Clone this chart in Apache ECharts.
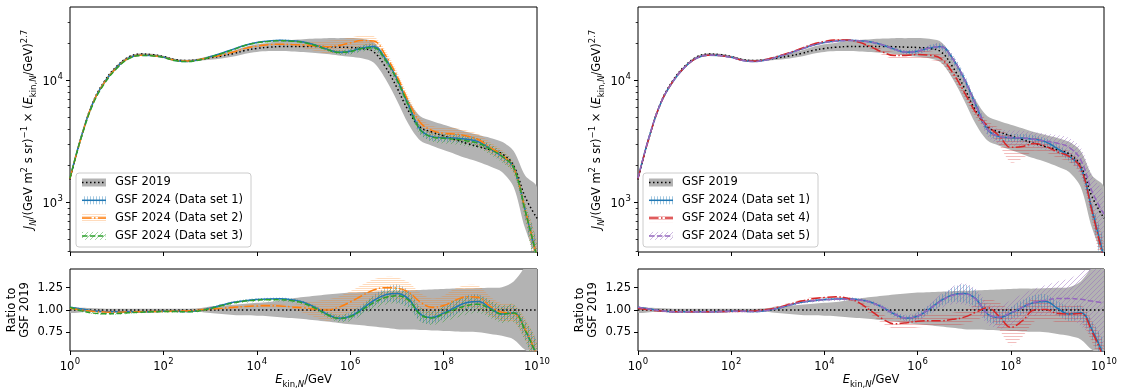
<!DOCTYPE html>
<html>
<head>
<meta charset="utf-8">
<script src="https://cdn.jsdelivr.net/npm/echarts@6/dist/echarts.min.js"></script>
<style>
  html, body { margin: 0; padding: 0; background: #fff; }
  #chart { width: 1121px; height: 392px; }
</style>
</head>
<body>
<div id="chart"></div>
<script>
// energy grid, log10(E_kin,N / GeV)
const logE = [0, 0.25, 0.5, 0.75, 1, 1.25, 1.5, 1.75, 2, 2.25, 2.5, 2.75, 3, 3.25, 3.5, 3.75, 4, 4.25, 4.5, 4.75,
  5, 5.25, 5.5, 5.75, 6, 6.25, 6.5, 6.75, 7, 7.25, 7.5, 7.75, 8, 8.25, 8.5, 8.75, 9, 9.25, 9.5, 9.75, 10];

// GSF 2019 flux x E^2.7
const gsf2019 = [1535, 3520, 6730, 10000, 13060, 15500, 16440, 16290, 15700, 14800, 14550, 14800, 15300, 15850, 16600, 17600,
  18300, 18700, 18970, 19000, 19000, 18980, 18900, 18750, 18620, 18280, 17180, 12970, 8730, 5600, 4140, 3780, 3510, 3270,
  3040, 2860, 2700, 2500, 1995, 1100, 740];
// GSF 2019 uncertainty band, relative to GSF 2019
const gsfLo = [0.97, 0.975, 0.98, 0.985, 0.985, 0.985, 0.985, 0.985, 0.985, 0.985, 0.985, 0.98, 0.965, 0.955, 0.945, 0.94,
  0.935, 0.93, 0.92, 0.91, 0.9, 0.885, 0.87, 0.855, 0.84, 0.83, 0.815, 0.8, 0.785, 0.78, 0.775, 0.77, 0.765, 0.76, 0.755,
  0.75, 0.73, 0.71, 0.67, 0.55, 0.5];
const gsfHi = [1.03, 1.025, 1.02, 1.015, 1.015, 1.015, 1.015, 1.015, 1.015, 1.015, 1.015, 1.02, 1.04, 1.05, 1.06, 1.07,
  1.08, 1.09, 1.11, 1.13, 1.145, 1.16, 1.175, 1.185, 1.195, 1.2, 1.205, 1.21, 1.215, 1.22, 1.225, 1.23, 1.235, 1.24, 1.24,
  1.245, 1.25, 1.255, 1.32, 1.5, 1.8];

// GSF 2024 fits, ratio to GSF 2019, and their half band widths
const ratio1 = [1.03, 1.01, 0.99, 0.98, 0.98, 0.98, 0.98, 0.982, 0.985, 0.985, 0.983, 0.995, 1.02, 1.055, 1.087, 1.105,
  1.117, 1.123, 1.125, 1.115, 1.087, 1.03, 0.955, 0.908, 0.93, 1.01, 1.106, 1.17, 1.185, 1.125, 0.955, 0.915, 0.965, 1.03,
  1.085, 1.095, 1.02, 0.955, 0.97, 0.77, 0.48];
const err1 = [0.01, 0.01, 0.01, 0.01, 0.01, 0.01, 0.01, 0.01, 0.01, 0.01, 0.01, 0.012, 0.012, 0.012, 0.012, 0.015, 0.015,
  0.015, 0.015, 0.015, 0.015, 0.02, 0.025, 0.03, 0.04, 0.05, 0.06, 0.08, 0.1, 0.09, 0.08, 0.07, 0.07, 0.08, 0.08, 0.08,
  0.08, 0.08, 0.08, 0.1, 0.15];
const ratio2 = [1.02, 1.0, 0.985, 0.978, 0.975, 0.978, 0.98, 0.983, 0.985, 0.988, 0.99, 0.998, 1.01, 1.02, 1.03, 1.04,
  1.045, 1.048, 1.045, 1.035, 1.025, 1.01, 1.0, 1.03, 1.09, 1.16, 1.225, 1.25, 1.245, 1.2, 1.09, 1.03, 1.05, 1.11, 1.15,
  1.14, 1.04, 0.975, 0.965, 0.78, 0.48];
const err2 = [0.012, 0.012, 0.012, 0.012, 0.012, 0.012, 0.012, 0.012, 0.012, 0.012, 0.012, 0.015, 0.015, 0.015, 0.015,
  0.02, 0.02, 0.02, 0.02, 0.02, 0.06, 0.09, 0.12, 0.12, 0.12, 0.12, 0.12, 0.12, 0.12, 0.11, 0.1, 0.1, 0.11, 0.13, 0.13,
  0.13, 0.11, 0.1, 0.1, 0.12, 0.15];
const ratio3 = [1.03, 0.99, 0.965, 0.958, 0.96, 0.968, 0.975, 0.98, 0.982, 0.982, 0.98, 0.99, 1.015, 1.05, 1.08, 1.1,
  1.11, 1.115, 1.115, 1.105, 1.075, 1.02, 0.95, 0.905, 0.925, 1.0, 1.08, 1.14, 1.16, 1.11, 0.95, 0.91, 0.955, 1.01, 1.05,
  1.065, 1.01, 0.955, 0.965, 0.77, 0.48];
const err3 = [0.012, 0.012, 0.012, 0.012, 0.012, 0.012, 0.012, 0.012, 0.012, 0.012, 0.012, 0.015, 0.015, 0.015, 0.015,
  0.02, 0.02, 0.02, 0.02, 0.02, 0.02, 0.025, 0.03, 0.04, 0.05, 0.06, 0.07, 0.08, 0.09, 0.09, 0.08, 0.08, 0.09, 0.1, 0.1,
  0.1, 0.1, 0.1, 0.1, 0.12, 0.15];
const ratio4 = [1.02, 1.0, 0.99, 0.982, 0.98, 0.98, 0.98, 0.982, 0.985, 0.988, 0.99, 1.005, 1.03, 1.065, 1.1, 1.125,
  1.14, 1.148, 1.13, 1.08, 0.99, 0.9, 0.845, 0.855, 0.875, 0.88, 0.88, 0.895, 0.92, 0.975, 1.025, 0.93, 0.805, 0.88, 1.0,
  1.005, 0.96, 0.955, 0.96, 0.75, 0.45];
const err4 = [0.012, 0.012, 0.012, 0.012, 0.012, 0.012, 0.012, 0.012, 0.012, 0.012, 0.012, 0.015, 0.015, 0.015, 0.015,
  0.02, 0.02, 0.02, 0.02, 0.02, 0.04, 0.05, 0.06, 0.07, 0.07, 0.07, 0.07, 0.075, 0.08, 0.09, 0.1, 0.15, 0.2, 0.18, 0.13,
  0.11, 0.1, 0.1, 0.1, 0.12, 0.15];
const ratio5 = [1.03, 1.01, 0.99, 0.98, 0.98, 0.98, 0.98, 0.982, 0.985, 0.985, 0.983, 0.995, 1.02, 1.055, 1.085, 1.103,
  1.115, 1.12, 1.122, 1.112, 1.085, 1.03, 0.955, 0.91, 0.932, 1.01, 1.1, 1.165, 1.18, 1.12, 0.96, 0.92, 0.97, 1.03, 1.085,
  1.11, 1.13, 1.13, 1.12, 1.1, 1.08];
const err5 = [0.012, 0.012, 0.012, 0.012, 0.012, 0.012, 0.012, 0.012, 0.012, 0.012, 0.012, 0.015, 0.015, 0.015, 0.015,
  0.02, 0.02, 0.02, 0.02, 0.02, 0.025, 0.03, 0.035, 0.04, 0.05, 0.06, 0.08, 0.1, 0.12, 0.12, 0.12, 0.13, 0.14, 0.15, 0.15,
  0.17, 0.19, 0.22, 0.3, 0.4, 0.5];

const xTicks = [0, 2, 4, 6, 8, 10];
const yMainTicks = [3, 4];
const yMinorTicks = [400, 500, 600, 700, 800, 900, 2000, 3000, 4000, 5000, 6000, 7000, 8000, 9000, 20000, 30000, 40000];
const yRatioTicks = [0.75, 1.0, 1.25];

const FONT = 'DejaVu Sans';
const FS = 11.5;

function hatch(kind, color, size) {
  const c = document.createElement('canvas');
  c.width = size; c.height = size;
  const g = c.getContext('2d');
  g.strokeStyle = color;
  g.lineWidth = 1;
  g.beginPath();
  if (kind === '|') { g.moveTo(0.5, 0); g.lineTo(0.5, size); }
  else if (kind === '-') { g.moveTo(0, 0.5); g.lineTo(size, 0.5); }
  else {
    g.moveTo(0, size); g.lineTo(size, 0);
    g.moveTo(-1, 1); g.lineTo(1, -1);
    g.moveTo(size - 1, size + 1); g.lineTo(size + 1, size - 1);
  }
  g.stroke();
  return { image: c, repeat: 'repeat' };
}

const GRAY = '#b3b3b3';
const sets = {
  1: { name: 'GSF 2024 (Data set 1)', r: ratio1, e: err1, color: '#1f77b4', dash: 'solid', fill: hatch('|', 'rgba(31,119,180,0.4)', 3) },
  2: { name: 'GSF 2024 (Data set 2)', r: ratio2, e: err2, color: '#ff7f0e', dash: [9.6, 2.4, 1.5, 2.4], fill: hatch('-', 'rgba(255,127,14,0.28)', 2) },
  3: { name: 'GSF 2024 (Data set 3)', r: ratio3, e: err3, color: '#2ca02c', dash: [5.5, 2.4], fill: hatch('/', 'rgba(44,160,44,0.45)', 5) },
  4: { name: 'GSF 2024 (Data set 4)', r: ratio4, e: err4, color: '#d62728', dash: [9.6, 2.4, 1.5, 2.4], fill: hatch('-', 'rgba(214,39,40,0.3)', 3) },
  5: { name: 'GSF 2024 (Data set 5)', r: ratio5, e: err5, color: '#9467bd', dash: [5.5, 2.4], fill: hatch('/', 'rgba(148,103,189,0.45)', 5) }
};

const pow10 = v => '{b|10}{s|' + v + '}';
const powRich = {
  b: { fontFamily: FONT, fontSize: FS, color: '#000', lineHeight: 16, verticalAlign: 'bottom' },
  s: { fontFamily: FONT, fontSize: 8.5, color: '#000', lineHeight: 16, verticalAlign: 'top', padding: [0, 0, 0, 0.5] }
};
const mathRich = {
  t: { fontFamily: FONT, fontSize: FS, color: '#000', lineHeight: 18 },
  i: { fontFamily: FONT, fontSize: FS, color: '#000', fontStyle: 'italic', lineHeight: 18 },
  sub: { fontFamily: FONT, fontSize: 8.5, color: '#000', lineHeight: 10, verticalAlign: 'bottom' },
  subi: { fontFamily: FONT, fontSize: 8.5, color: '#000', fontStyle: 'italic', lineHeight: 10, verticalAlign: 'bottom' },
  sup: { fontFamily: FONT, fontSize: 8.5, color: '#000', lineHeight: 10, verticalAlign: 'top' }
};

const tickStyle = { show: true, length: 4, lineStyle: { color: '#000', width: 1 } };

function xAxisDef(grid, withLabels) {
  return {
    type: 'value', gridIndex: grid, min: 0, max: 10, interval: 2,
    axisLine: { show: false }, splitLine: { show: false },
    axisTick: tickStyle,
    axisLabel: withLabels ? { show: true, margin: 6, formatter: pow10, rich: powRich } : { show: false },
    name: withLabels ? '{i|E}{sub|kin,}{subi|N}{t|/GeV}' : '',
    nameLocation: 'middle', nameGap: 20,
    nameTextStyle: { fontFamily: FONT, fontSize: FS, color: '#000', rich: mathRich }
  };
}

function yMainDef(grid) {
  return {
    type: 'value', gridIndex: grid, min: 2.593, max: 4.602,
    axisLine: { show: false }, splitLine: { show: false },
    axisTick: Object.assign({ customValues: yMainTicks }, tickStyle),
    axisLabel: { show: true, margin: 7, customValues: yMainTicks, formatter: pow10, rich: powRich },
    name: '{i|J}{subi|N}{t|/(GeV m}{sup|2}{t| s sr)}{sup|−1}{t| × (}{i|E}{sub|kin,}{subi|N}{t|/GeV)}{sup|2.7}',
    nameLocation: 'middle', nameRotate: 90, nameGap: 32,
    nameTextStyle: { fontFamily: FONT, fontSize: FS, color: '#000', rich: mathRich }
  };
}

function yMinorDef(grid) {
  return {
    type: 'value', gridIndex: grid, min: 2.593, max: 4.602, position: 'left',
    axisLine: { show: false }, splitLine: { show: false }, axisLabel: { show: false },
    axisTick: { show: true, length: 2.3, lineStyle: { color: '#000', width: 0.8 }, customValues: yMinorTicks.map(v => Math.log10(v)) }
  };
}

function yRatioDef(grid) {
  return {
    type: 'value', gridIndex: grid, min: 0.54, max: 1.46,
    axisLine: { show: false }, splitLine: { show: false },
    axisTick: Object.assign({ customValues: yRatioTicks }, tickStyle),
    axisLabel: { show: true, margin: 7, customValues: yRatioTicks, formatter: v => v.toFixed(2), fontFamily: FONT, fontSize: FS, color: '#000' },
    name: 'Ratio to\nGSF 2019',
    nameLocation: 'middle', nameRotate: 90, nameGap: 38,
    nameTextStyle: { fontFamily: FONT, fontSize: FS, color: '#000', lineHeight: 13 }
  };
}

function band(xi, yi, lo, hi, fill, z) {
  return {
    type: 'custom', xAxisIndex: xi, yAxisIndex: yi, clip: true, silent: true, z: z,
    data: [[logE[0], lo[0]]],
    renderItem: function (params, api) {
      const pts = [];
      for (let i = 0; i < logE.length; i++) pts.push(api.coord([logE[i], hi[i]]));
      for (let i = logE.length - 1; i >= 0; i--) pts.push(api.coord([logE[i], lo[i]]));
      return { type: 'polygon', shape: { points: pts, smooth: 0.3 }, style: { fill: fill, stroke: null } };
    }
  };
}

function line(xi, yi, vals, color, dash, width, z) {
  return {
    type: 'line', xAxisIndex: xi, yAxisIndex: yi, silent: true, z: z,
    data: logE.map((x, i) => [x, vals[i]]),
    smooth: 0.4, showSymbol: false, symbol: 'none', clip: true,
    lineStyle: { color: color, width: width, type: dash }
  };
}

const lg = v => Math.log10(v);

function panelSeries(p, ids) {
  const mx = 2 * p, rx = 2 * p + 1, my = 2 * p, ry = 2 * p + 1;
  const out = [];
  // GSF 2019 band
  out.push(band(mx, my, gsf2019.map((g, i) => lg(g * gsfLo[i])), gsf2019.map((g, i) => lg(g * gsfHi[i])), GRAY, 1));
  out.push(band(rx, ry, gsfLo, gsfHi, GRAY, 1));
  ids.forEach(id => {
    const s = sets[id];
    out.push(band(mx, my, gsf2019.map((g, i) => lg(g * (s.r[i] - s.e[i]))), gsf2019.map((g, i) => lg(g * (s.r[i] + s.e[i]))), s.fill, 2));
    out.push(band(rx, ry, s.r.map((r, i) => r - s.e[i]), s.r.map((r, i) => r + s.e[i]), s.fill, 2));
  });
  out.push(line(mx, my, gsf2019.map(lg), '#000', [1.5, 2.5], 1.5, 3));
  out.push(line(rx, ry, gsf2019.map(g => g / g), '#000', [1.5, 2.5], 1.5, 3));
  ids.forEach(id => {
    const s = sets[id];
    out.push(line(mx, my, gsf2019.map((g, i) => lg(g * s.r[i])), s.color, s.dash, 1.5, 4));
    out.push(line(rx, ry, s.r, s.color, s.dash, 1.5, 4));
  });
  return out;
}

function legendBox(x0, ids) {
  const els = [{
    type: 'rect', z: 100, shape: { x: x0, y: 173, width: 175, height: 74, r: 3 },
    style: { fill: 'rgba(255,255,255,0.8)', stroke: '#cccccc', lineWidth: 1 }
  }];
  const entries = [{ name: 'GSF 2019', fill: GRAY, color: '#000', dash: [1.5, 2.5] }].concat(ids.map(id => sets[id]));
  entries.forEach((en, k) => {
    const cy = 182.5 + k * 17.8;
    els.push({ type: 'rect', z: 101, shape: { x: x0 + 6, y: cy - 4, width: 24, height: 8 }, style: { fill: en.fill } });
    els.push({
      type: 'line', z: 102, shape: { x1: x0 + 6, y1: cy, x2: x0 + 30, y2: cy },
      style: { stroke: en.color, lineWidth: 1.5, lineDash: en.dash === 'solid' ? null : en.dash }
    });
    els.push({
      type: 'text', z: 102, x: x0 + 39, y: cy,
      style: { text: en.name, fontFamily: FONT, fontSize: FS, fill: '#000', verticalAlign: 'middle', align: 'left' }
    });
  });
  return els;
}

const gridBox = { show: true, borderColor: '#000', borderWidth: 1, backgroundColor: 'transparent' };

const chart = echarts.init(document.getElementById('chart'), null, { renderer: 'canvas' });
chart.setOption({
  animation: false,
  backgroundColor: '#fff',
  grid: [
    Object.assign({ left: 70, top: 7, width: 467, height: 245 }, gridBox),
    Object.assign({ left: 70, top: 269, width: 467, height: 82 }, gridBox),
    Object.assign({ left: 638, top: 7, width: 466, height: 245 }, gridBox),
    Object.assign({ left: 638, top: 269, width: 466, height: 82 }, gridBox)
  ],
  xAxis: [xAxisDef(0, false), xAxisDef(1, true), xAxisDef(2, false), xAxisDef(3, true)],
  yAxis: [yMainDef(0), yRatioDef(1), yMainDef(2), yRatioDef(3), yMinorDef(0), yMinorDef(2)],
  series: panelSeries(0, [1, 2, 3]).concat(panelSeries(1, [1, 4, 5])),
  graphic: legendBox(76, [1, 2, 3]).concat(legendBox(643, [1, 4, 5]))
});
</script>
</body>
</html>
